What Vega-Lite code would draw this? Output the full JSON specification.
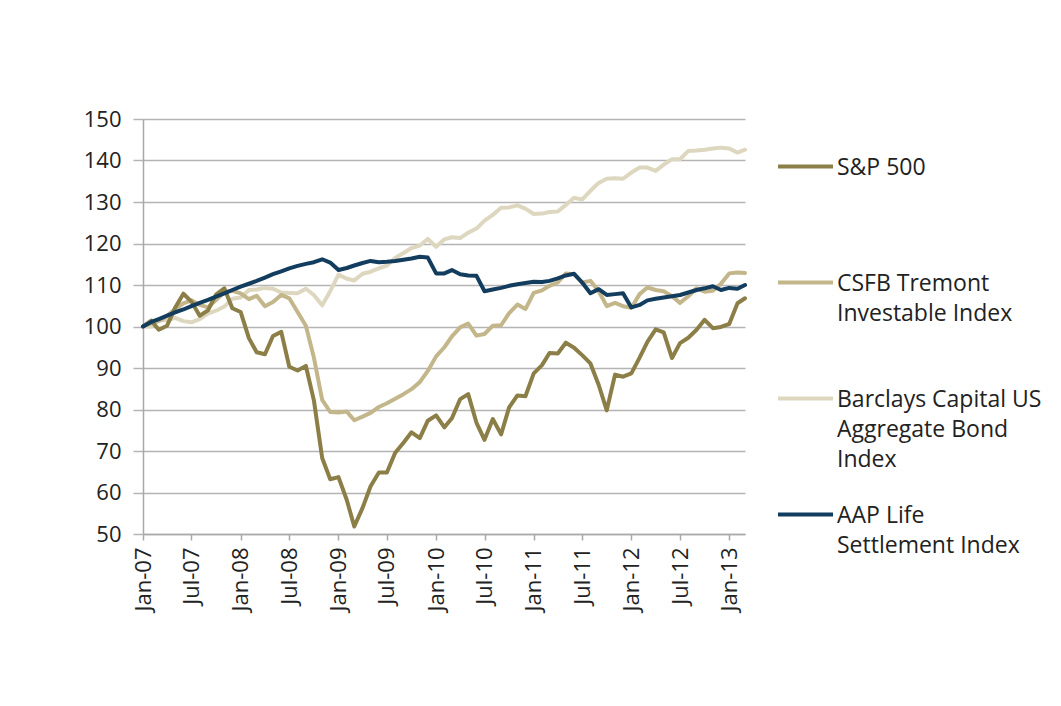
{
  "$schema": "https://vega.github.io/schema/vega-lite/v6.json",
  "width": 602,
  "height": 415,
  "autosize": {"type": "none"},
  "padding": {"left": 143, "top": 119, "right": 316, "bottom": 172},
  "background": "white",
  "config": {"view": {"stroke": null}, "font": "Open Sans"},
  "data": {"values": [
    {"m":"2007-01-01","sp":100,"cs":100,"bc":100,"aap":100},
    {"m":"2007-02-01","sp":101.4,"cs":100.8,"bc":100.0,"aap":101.1},
    {"m":"2007-03-01","sp":99.2,"cs":101.3,"bc":101.5,"aap":101.8},
    {"m":"2007-04-01","sp":100.2,"cs":102.5,"bc":101.5,"aap":102.6},
    {"m":"2007-05-01","sp":104.5,"cs":104.2,"bc":102.1,"aap":103.4},
    {"m":"2007-06-01","sp":107.9,"cs":105.6,"bc":101.3,"aap":104.1},
    {"m":"2007-07-01","sp":106.0,"cs":106.3,"bc":101.0,"aap":104.9},
    {"m":"2007-08-01","sp":102.6,"cs":105.2,"bc":101.8,"aap":105.7},
    {"m":"2007-09-01","sp":103.9,"cs":104.6,"bc":103.1,"aap":106.4},
    {"m":"2007-10-01","sp":107.7,"cs":106.4,"bc":103.8,"aap":107.2},
    {"m":"2007-11-01","sp":109.2,"cs":108.3,"bc":104.8,"aap":108.0},
    {"m":"2007-12-01","sp":104.4,"cs":108.6,"bc":106.7,"aap":108.8},
    {"m":"2008-01-01","sp":103.5,"cs":108.0,"bc":107.0,"aap":109.6},
    {"m":"2008-02-01","sp":97.2,"cs":106.6,"bc":108.8,"aap":110.3},
    {"m":"2008-03-01","sp":93.8,"cs":107.4,"bc":108.9,"aap":111.0},
    {"m":"2008-04-01","sp":93.3,"cs":104.9,"bc":109.3,"aap":111.8},
    {"m":"2008-05-01","sp":97.7,"cs":105.9,"bc":109.1,"aap":112.6},
    {"m":"2008-06-01","sp":98.7,"cs":107.6,"bc":108.2,"aap":113.3},
    {"m":"2008-07-01","sp":90.3,"cs":106.8,"bc":108.1,"aap":114.0},
    {"m":"2008-08-01","sp":89.4,"cs":103.5,"bc":108.0,"aap":114.6},
    {"m":"2008-09-01","sp":90.5,"cs":100.2,"bc":109.1,"aap":115.1},
    {"m":"2008-10-01","sp":82.2,"cs":92.5,"bc":107.6,"aap":115.5},
    {"m":"2008-11-01","sp":68.3,"cs":82.3,"bc":105.1,"aap":116.2},
    {"m":"2008-12-01","sp":63.2,"cs":79.4,"bc":108.5,"aap":115.4},
    {"m":"2009-01-01","sp":63.7,"cs":79.3,"bc":112.5,"aap":113.6},
    {"m":"2009-02-01","sp":58.2,"cs":79.5,"bc":111.5,"aap":114.1},
    {"m":"2009-03-01","sp":51.8,"cs":77.4,"bc":111.1,"aap":114.7},
    {"m":"2009-04-01","sp":56.3,"cs":78.3,"bc":112.7,"aap":115.3},
    {"m":"2009-05-01","sp":61.5,"cs":79.2,"bc":113.2,"aap":115.8},
    {"m":"2009-06-01","sp":64.8,"cs":80.6,"bc":114.0,"aap":115.5},
    {"m":"2009-07-01","sp":64.8,"cs":81.5,"bc":114.7,"aap":115.6},
    {"m":"2009-08-01","sp":69.6,"cs":82.6,"bc":116.5,"aap":115.8},
    {"m":"2009-09-01","sp":72.0,"cs":83.7,"bc":117.7,"aap":116.1},
    {"m":"2009-10-01","sp":74.5,"cs":84.9,"bc":118.9,"aap":116.4},
    {"m":"2009-11-01","sp":73.1,"cs":86.6,"bc":119.5,"aap":116.8},
    {"m":"2009-12-01","sp":77.3,"cs":89.3,"bc":121.1,"aap":116.6},
    {"m":"2010-01-01","sp":78.6,"cs":92.8,"bc":119.2,"aap":112.8},
    {"m":"2010-02-01","sp":75.7,"cs":95.0,"bc":121.0,"aap":112.8},
    {"m":"2010-03-01","sp":77.9,"cs":97.6,"bc":121.5,"aap":113.6},
    {"m":"2010-04-01","sp":82.5,"cs":99.8,"bc":121.3,"aap":112.6},
    {"m":"2010-05-01","sp":83.7,"cs":100.7,"bc":122.6,"aap":112.3},
    {"m":"2010-06-01","sp":76.8,"cs":97.8,"bc":123.6,"aap":112.2},
    {"m":"2010-07-01","sp":72.7,"cs":98.2,"bc":125.5,"aap":108.5},
    {"m":"2010-08-01","sp":77.7,"cs":100.2,"bc":126.9,"aap":108.9},
    {"m":"2010-09-01","sp":74.0,"cs":100.3,"bc":128.6,"aap":109.3},
    {"m":"2010-10-01","sp":80.5,"cs":103.2,"bc":128.7,"aap":109.8},
    {"m":"2010-11-01","sp":83.4,"cs":105.3,"bc":129.2,"aap":110.2},
    {"m":"2010-12-01","sp":83.2,"cs":104.2,"bc":128.4,"aap":110.5},
    {"m":"2011-01-01","sp":88.7,"cs":108.1,"bc":127.1,"aap":110.8},
    {"m":"2011-02-01","sp":90.7,"cs":108.7,"bc":127.2,"aap":110.7},
    {"m":"2011-03-01","sp":93.6,"cs":109.8,"bc":127.6,"aap":111.0},
    {"m":"2011-04-01","sp":93.5,"cs":110.6,"bc":127.7,"aap":111.6},
    {"m":"2011-05-01","sp":96.1,"cs":112.8,"bc":129.3,"aap":112.3},
    {"m":"2011-06-01","sp":94.9,"cs":112.6,"bc":131.0,"aap":112.7},
    {"m":"2011-07-01","sp":93.1,"cs":110.6,"bc":130.6,"aap":110.6},
    {"m":"2011-08-01","sp":91.1,"cs":111.0,"bc":132.7,"aap":108.0},
    {"m":"2011-09-01","sp":85.9,"cs":108.5,"bc":134.6,"aap":109.0},
    {"m":"2011-10-01","sp":79.8,"cs":104.9,"bc":135.6,"aap":107.6},
    {"m":"2011-11-01","sp":88.4,"cs":105.7,"bc":135.7,"aap":107.8},
    {"m":"2011-12-01","sp":87.9,"cs":104.9,"bc":135.6,"aap":108.0},
    {"m":"2012-01-01","sp":88.7,"cs":104.5,"bc":137.1,"aap":104.6},
    {"m":"2012-02-01","sp":92.5,"cs":107.8,"bc":138.3,"aap":105.2},
    {"m":"2012-03-01","sp":96.3,"cs":109.4,"bc":138.3,"aap":106.3},
    {"m":"2012-04-01","sp":99.3,"cs":108.8,"bc":137.5,"aap":106.7},
    {"m":"2012-05-01","sp":98.6,"cs":108.5,"bc":139.0,"aap":107.0},
    {"m":"2012-06-01","sp":92.4,"cs":107.3,"bc":140.3,"aap":107.3},
    {"m":"2012-07-01","sp":96.0,"cs":105.7,"bc":140.3,"aap":107.6},
    {"m":"2012-08-01","sp":97.3,"cs":107.3,"bc":142.3,"aap":108.2},
    {"m":"2012-09-01","sp":99.2,"cs":109.2,"bc":142.4,"aap":108.8},
    {"m":"2012-10-01","sp":101.6,"cs":108.4,"bc":142.6,"aap":109.2},
    {"m":"2012-11-01","sp":99.6,"cs":108.6,"bc":142.9,"aap":109.7},
    {"m":"2012-12-01","sp":99.9,"cs":110.3,"bc":143.1,"aap":108.8},
    {"m":"2013-01-01","sp":100.6,"cs":112.8,"bc":142.9,"aap":109.3},
    {"m":"2013-02-01","sp":105.6,"cs":113.0,"bc":141.9,"aap":109.1},
    {"m":"2013-03-01","sp":106.8,"cs":112.9,"bc":142.6,"aap":110.0}
  ]},
  "transform": [{"fold": ["bc", "cs", "sp", "aap"], "as": ["series", "value"]}],
  "mark": {"type": "line", "strokeWidth": 4, "strokeJoin": "round", "strokeCap": "round"},
  "encoding": {
    "x": {
      "field": "m", "type": "temporal",
      "scale": {"type": "utc", "nice": false},
      "axis": {
        "title": null,
        "labelExpr": "utcFormat(datum.value, '%b-%y')",
        "tickCount": {"interval": "month", "step": 6},
        "labelAngle": -90, "labelOverlap": false, "labelFlush": false,
        "grid": false,
        "domainColor": "#A8A8A8", "domainWidth": 1.5,
        "tickColor": "#A8A8A8", "tickWidth": 1.5, "tickSize": 6,
        "labelFont": "Open Sans", "labelFontSize": 22, "labelColor": "#222222", "labelPadding": 7
      }
    },
    "y": {
      "field": "value", "type": "quantitative",
      "scale": {"domain": [50, 150], "nice": false, "zero": false},
      "axis": {
        "title": null, "values": [50, 60, 70, 80, 90, 100, 110, 120, 130, 140, 150],
        "grid": true, "gridColor": "#B4B4B4", "gridWidth": 1.5,
        "domainColor": "#A8A8A8", "domainWidth": 1.5,
        "tickColor": "#B4B4B4", "tickWidth": 1.5, "tickSize": 10,
        "labelFont": "Open Sans", "labelFontSize": 22, "labelColor": "#222222", "labelPadding": 12
      }
    },
    "color": {
      "field": "series", "type": "nominal",
      "scale": {"domain": ["sp", "cs", "bc", "aap"], "range": ["#8C7E47", "#C4B68B", "#DED7BF", "#123D5E"]},
      "legend": {
        "orient": "none", "legendX": 633, "legendY": 8, "title": null, "padding": 0,
        "symbolType": "M-1,0.36L1,0.36", "symbolSize": 3025, "symbolStrokeWidth": 4,
        "labelFont": "Open Sans", "labelFontSize": 23, "labelColor": "#222222",
        "labelLimit": 400, "labelOffset": 2, "labelBaseline": "top",
        "gridAlign": "all", "rowPadding": 3,
        "labelExpr": "datum.value == 'sp' ? 'S&P 500' : datum.value == 'cs' ? ['CSFB Tremont', 'Investable Index'] : datum.value == 'bc' ? ['Barclays Capital US', 'Aggregate Bond', 'Index'] : ['AAP Life', 'Settlement Index']",
        "encode": {"labels": {"update": {"lineHeight": {"value": 30}}}}
      }
    },
    "order": {"value": 0}
  }
}
